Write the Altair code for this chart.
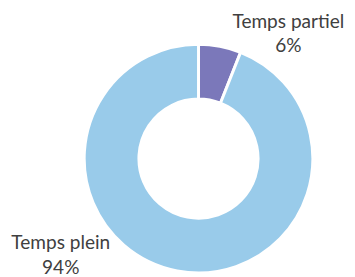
import altair as alt
import pandas as pd

categories = ["Temps partiel", "Temps plein"]
values = [6, 94]
labels = ["6%", "94%"]
colors = ["#7B78BA", "#99CBEA"]

df = pd.DataFrame({
    "cat": categories,
    "val": values,
    "pct": labels,
    "ord": list(range(len(categories))),
})
df["txt"] = df["cat"] + "\n" + df["pct"]

base = alt.Chart(df)

arc = base.mark_arc(innerRadius=61, outerRadius=117, stroke="white", strokeWidth=3).encode(
    theta=alt.Theta("val:Q", stack=True),
    color=alt.Color("cat:N", scale=alt.Scale(domain=categories, range=colors), legend=None),
    order=alt.Order("ord:Q"),
    x=alt.value(195),
    y=alt.value(151),
)

txt_style = dict(font="Lato", fontSize=19.5, color="#404040", lineBreak="\n", lineHeight=25,
                 align="center", baseline="alphabetic")

t1 = base.transform_filter(alt.datum.cat == categories[0]).mark_text(**txt_style).encode(
    text="txt:N", x=alt.value(287), y=alt.value(17)
)
t2 = base.transform_filter(alt.datum.cat == categories[1]).mark_text(**txt_style).encode(
    text="txt:N", x=alt.value(54), y=alt.value(244)
)

chart = alt.layer(arc, t1, t2).properties(
    width=347, height=269, padding=0, autosize="none"
).configure_view(stroke=None)

chart.save("out.html", embed_options={"renderer": "svg", "actions": False})
